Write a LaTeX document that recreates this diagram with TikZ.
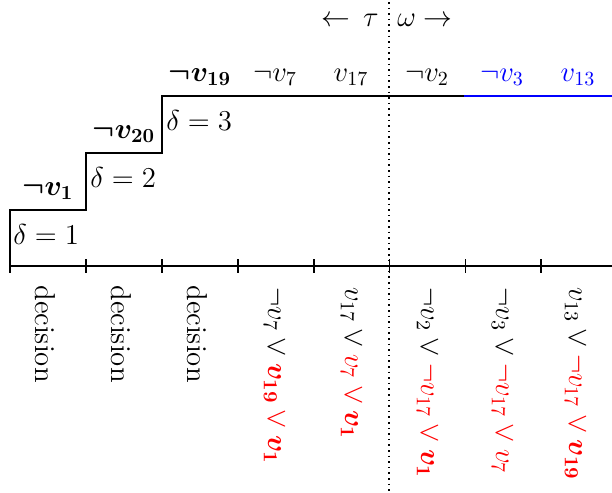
\documentclass[tikz,border=0pt]{standalone}
\usepackage{amsmath}
\begin{document}
\begin{tikzpicture}[x=0.5pt,y=-0.5pt,
  axisline/.style={line width=0.9pt},
  toplab/.style={anchor=base,inner sep=0pt,font=\Large},
  dlab/.style={anchor=base west,inner sep=0pt,font=\Large},
  clause/.style={rotate=-90,anchor=west,inner sep=0pt,font=\Large},
  dec/.style={rotate=-90,anchor=west,inner sep=0pt,font=\Large},
  sep/.style={line width=0.8pt,dash pattern=on 0.8pt off 2pt}]
\useasboundingbox (0,0) rectangle (612,493);
% staircase
\coordinate (s0) at (10,266);
\coordinate (s1) at (10,210);
\coordinate (s2) at (86,210);
\coordinate (s3) at (86,153);
\coordinate (s4) at (162,153);
\coordinate (s5) at (162,96);
\coordinate (s6) at (464,96);
\coordinate (s7) at (612,96);
\draw[axisline] (s0) -- (s1) -- (s2) -- (s3) -- (s4) -- (s5) -- (s6);
\draw[axisline,blue] (s6) -- (s7);
% axis
\coordinate (a0) at (10,266);
\coordinate (a1) at (612,266);
\draw[axisline] (a0) -- (a1);
\foreach \i in {0,...,7}{
  \coordinate (t\i a) at (10+75.9*\i,259);
  \coordinate (t\i b) at (10+75.9*\i,273);
  \draw[axisline] (t\i a) -- (t\i b);
}
% separator
\coordinate (d0) at (389,2);
\coordinate (d1) at (389,493);
\draw[sep] (d0) -- (d1);
\node[anchor=base east,inner sep=0pt,font=\Large] (tau) at (379,26) {$\leftarrow\,\tau$};
\node[anchor=base west,inner sep=0pt,font=\Large] (om) at (397,26) {$\omega\rightarrow$};
% delta labels
\node[dlab] (del1) at (13,244) {$\delta = 1$};
\node[dlab] (del2) at (90,187) {$\delta = 2$};
\node[dlab] (del3) at (166,130) {$\delta = 3$};
% decision literals and trail
\node[toplab] (l1) at (48,195) {$\boldsymbol{\neg v_{1}}$};
\node[toplab] (l2) at (124,138) {$\boldsymbol{\neg v_{20}}$};
\node[toplab] (l3) at (200,81) {$\boldsymbol{\neg v_{19}}$};
\node[toplab] (l4) at (275,81) {$\neg v_{7}$};
\node[toplab] (l5) at (351,81) {$v_{17}$};
\node[toplab] (l6) at (427,81) {$\neg v_{2}$};
\node[toplab,text=blue] (l7) at (502,81) {$\neg v_{3}$};
\node[toplab,text=blue] (l8) at (578,81) {$v_{13}$};
% reasons
\node[dec] (r1) at (45,285) {decision};
\node[dec] (r2) at (121,285) {decision};
\node[dec] (r3) at (197,285) {decision};
\node[clause] (r4) at (274,287) {$\neg v_{7} \vee \color{red}\boldsymbol{v_{19}} \vee \boldsymbol{v_{1}}$};
\node[clause] (r5) at (351,287) {$v_{17} \vee \color{red} v_{7} \vee \boldsymbol{v_{1}}$};
\node[clause] (r6) at (427,287) {$\neg v_{2} \vee \color{red}\neg v_{17} \vee \boldsymbol{v_{1}}$};
\node[clause] (r7) at (502,287) {$\neg v_{3} \vee \color{red}\neg v_{17} \vee v_{7}$};
\node[clause] (r8) at (575,287) {$v_{13} \vee \color{red}\neg v_{17} \vee \boldsymbol{v_{19}}$};
\end{tikzpicture}
\end{document}
